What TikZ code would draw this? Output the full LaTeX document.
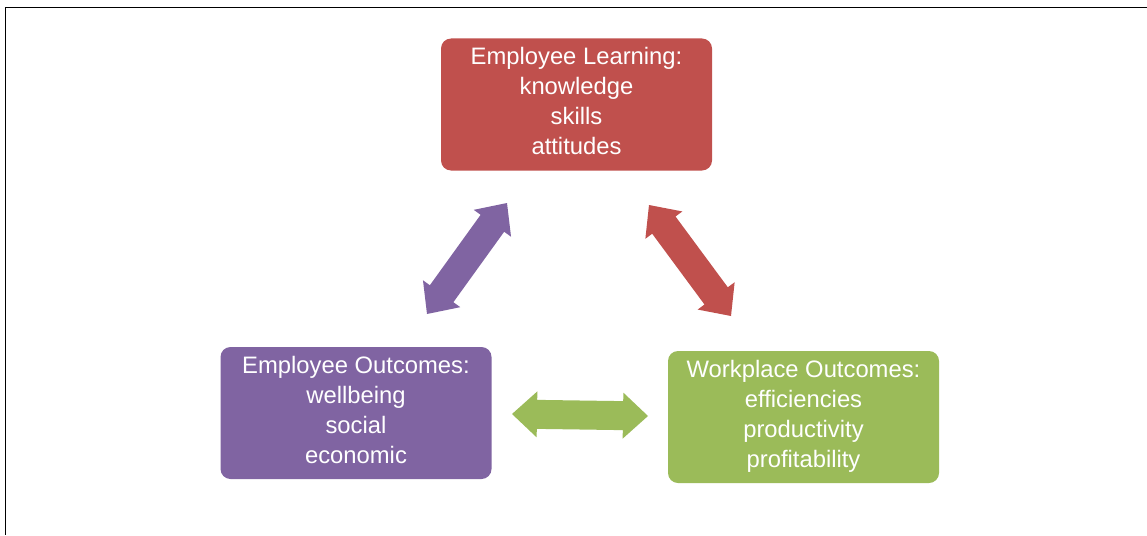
\documentclass[tikz,border=0pt]{standalone}
\usepackage{fontspec}
\setmainfont{Liberation Sans}
\usetikzlibrary{calc}
\definecolor{cred}{HTML}{C0504D}
\definecolor{cpurple}{HTML}{8064A2}
\definecolor{cgreen}{HTML}{9BBB59}
\newcommand{\blockarrow}[3]{%
  \fill[#3] let \p1=($(#2)-(#1)$), \n1={atan2(\y1,\x1)}, \n2={veclen(\x1,\y1)} in
    [shift={(#1)}, rotate=\n1]
    (0pt,0pt) -- (25pt,23pt) -- (25pt,14.5pt) -- (\n2-25pt,14.5pt) -- (\n2-25pt,23pt)
    -- (\n2,0pt) -- (\n2-25pt,-23pt) -- (\n2-25pt,-14.5pt) -- (25pt,-14.5pt)
    -- (25pt,-23pt) -- cycle;}
\tikzset{
  box/.style={rounded corners=10pt, minimum width=271pt, minimum height=132pt,
    inner sep=0pt, align=center, text=white, text height=100pt, text depth=0pt,
    font=\fontsize{23.8}{30}\selectfont},
}
\begin{document}
\begin{tikzpicture}[x=1pt,y=-1pt]
\useasboundingbox (0,0) rectangle (1147,535);
\draw[line width=1pt] (5,8) -- (1147,8);
\draw[line width=1.5pt] (5.5,8) -- (5.5,535);
\node[box, fill=cred] (learn) at (576.5,104.5) {Employee Learning:\\knowledge\\skills\\attitudes};
\node[box, fill=cpurple] (emp) at (356,413) {Employee Outcomes:\\wellbeing\\social\\economic};
\node[box, fill=cgreen] (work) at (803.5,417) {Workplace Outcomes:\\efficiencies\\productivity\\profitability};
\coordinate (pa1) at (427,314);
\coordinate (pa2) at (507,203);
\coordinate (ra1) at (649,205);
\coordinate (ra2) at (731,316);
\coordinate (ga1) at (512,414);
\coordinate (ga2) at (648,416);
\blockarrow{pa1}{pa2}{cpurple}
\blockarrow{ra1}{ra2}{cred}
\blockarrow{ga1}{ga2}{cgreen}
\end{tikzpicture}
\end{document}
